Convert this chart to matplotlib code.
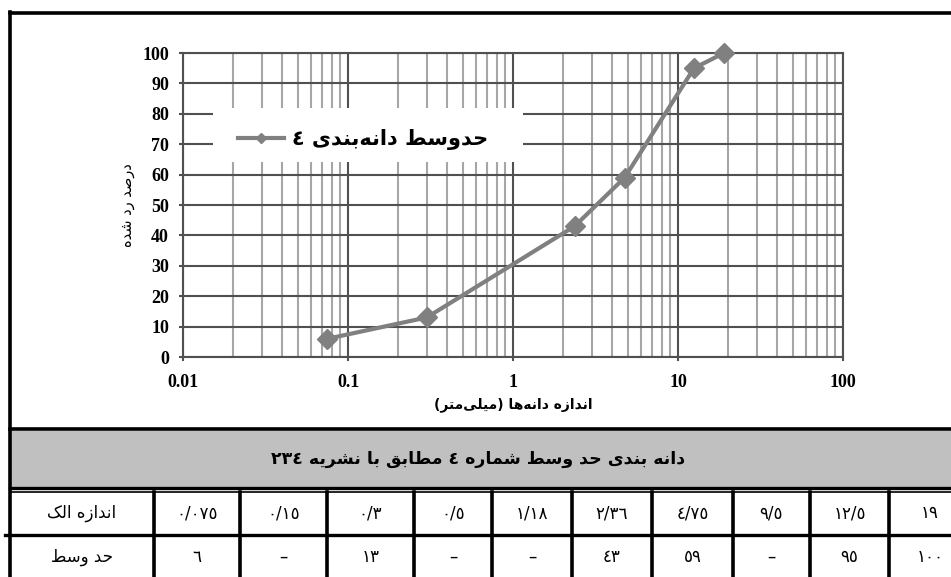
import re
import matplotlib
matplotlib.use('Agg')
import matplotlib.pyplot as plt
from matplotlib.patches import Rectangle
from matplotlib.ticker import FuncFormatter, LogLocator, NullFormatter

# داده‌های منحنی دانه‌بندی
sizes = [0.075, 0.3, 2.36, 4.75, 12.5, 19]
passing = [6, 13, 43, 59, 95, 100]

# داده‌های جدول
sieve_labels = ['٠/٠٧٥', '٠/١٥', '٠/٣', '٠/٥', '١/١٨', '٢/٣٦', '٤/٧٥', '٩/٥', '١٢/٥', '١٩']
mid_values = ['٦', '–', '١٣', '–', '–', '٤٣', '٥٩', '–', '٩٥', '١٠٠']

legend_label = 'حدوسط دانه\u200cبندی ٤'
x_title = 'اندازه دانه\u200cها (میلی\u200cمتر)'
y_title = 'درصد رد شده'
table_title = 'دانه بندی حد وسط شماره ٤ مطابق با نشریه ٢٣٤'
row_titles = ['اندازه الک', 'حد وسط']

# شکل‌دهی ساده حروف فارسی (matplotlib خودش اتصال حروف را انجام نمی‌دهد)
# (isolated, final, initial, medial)
FORMS = {
    'ا': (0xFE8D, 0xFE8E), 'ب': (0xFE8F, 0xFE90, 0xFE91, 0xFE92),
    'ت': (0xFE95, 0xFE96, 0xFE97, 0xFE98), 'ح': (0xFEA1, 0xFEA2, 0xFEA3, 0xFEA4),
    'د': (0xFEA9, 0xFEAA), 'ر': (0xFEAD, 0xFEAE), 'ز': (0xFEAF, 0xFEB0),
    'س': (0xFEB1, 0xFEB2, 0xFEB3, 0xFEB4), 'ش': (0xFEB5, 0xFEB6, 0xFEB7, 0xFEB8),
    'ص': (0xFEB9, 0xFEBA, 0xFEBB, 0xFEBC), 'ط': (0xFEC1, 0xFEC2, 0xFEC3, 0xFEC4),
    'ق': (0xFED5, 0xFED6, 0xFED7, 0xFED8), 'ل': (0xFEDD, 0xFEDE, 0xFEDF, 0xFEE0),
    'م': (0xFEE1, 0xFEE2, 0xFEE3, 0xFEE4), 'ن': (0xFEE5, 0xFEE6, 0xFEE7, 0xFEE8),
    'ه': (0xFEE9, 0xFEEA, 0xFEEB, 0xFEEC), 'و': (0xFEED, 0xFEEE),
    'ی': (0xFBFC, 0xFBFD, 0xFBFE, 0xFBFF), 'ک': (0xFB8E, 0xFB8F, 0xFB90, 0xFB91),
}
MIRROR = {'(': ')', ')': '('}


def fa(text):
    out = []
    for i, ch in enumerate(text):
        if ch not in FORMS:
            out.append(ch)
            continue
        prev = text[i - 1] if i > 0 else ''
        nxt = text[i + 1] if i + 1 < len(text) else ''
        j_prev = prev in FORMS and len(FORMS[prev]) == 4
        j_next = nxt in FORMS and len(FORMS[ch]) == 4
        f = FORMS[ch]
        if j_prev and j_next:
            code = f[3]
        elif j_prev:
            code = f[1]
        elif j_next:
            code = f[2]
        else:
            code = f[0]
        out.append(chr(code))
    shaped = ''.join(out).replace('\u200c', '')
    # عددها چپ به راست می‌مانند، بقیه برعکس می‌شود
    parts = re.findall(r'\d(?:[\d/.]*\d)?|.', shaped)
    return ''.join(MIRROR.get(p, p) for p in parts[::-1])


FA = 'DejaVu Sans'
NUM = 'Liberation Serif'
W, H = 951, 577

fig = plt.figure(figsize=(W / 100, H / 100), dpi=100)

# لایه زمینه برای کادر و جدول (مختصات پیکسلی)
bg = fig.add_axes([0, 0, 1, 1])
bg.set_xlim(0, W)
bg.set_ylim(H, 0)
bg.axis('off')

# کادر بیرونی
bg.plot([9.5, 975], [13, 13], color='black', lw=2.6)
bg.plot([9.5, 9.5], [11.5, 600], color='black', lw=2.6)
bg.plot([9.5, 975], [429, 429], color='black', lw=2.6)

# نوار خاکستری عنوان
bg.add_patch(Rectangle((11, 431), 960, 56, facecolor='#c0c0c0', edgecolor='none'))
bg.text(478, 459, fa(table_title), family=FA, fontsize=12.5, fontweight='bold',
        ha='center', va='center')
bg.plot([9.5, 975], [488, 488], color='black', lw=2.4)
bg.plot([9.5, 975], [491.5, 491.5], color='black', lw=1.2)

# جدول
col_edges = [9.5, 154, 240, 327, 414, 492, 572, 652, 733, 810, 889, 971]
row_edges = [492, 535, 578]
bg.plot([5, 975], [535, 535], color='black', lw=2.4)
for x in col_edges[1:-1]:
    bg.plot([x, x], [492, 600], color='black', lw=2.6)

rows = [[row_titles[0]] + sieve_labels, [row_titles[1]] + mid_values]
for r, cells in enumerate(rows):
    yc = (row_edges[r] + row_edges[r + 1]) / 2
    for c, s in enumerate(cells):
        xc = (col_edges[c] + col_edges[c + 1]) / 2
        bg.text(xc, yc, fa(s), family=FA, fontsize=12, ha='center', va='center')

# نمودار
ax = fig.add_axes([183 / W, 1 - 357 / H, 660 / W, 304 / H])
ax.set_xscale('log')
ax.set_xlim(0.01, 100)
ax.set_ylim(0, 100)
ax.set_axisbelow(True)

ax.xaxis.set_major_locator(LogLocator(base=10, numticks=10))
ax.xaxis.set_minor_locator(LogLocator(base=10, subs=range(2, 10), numticks=20))
ax.xaxis.set_major_formatter(FuncFormatter(lambda v, _: f'{v:g}'))
ax.xaxis.set_minor_formatter(NullFormatter())
ax.set_yticks(range(0, 101, 10))

ax.grid(which='major', color='#505050', lw=1.5)
ax.grid(which='minor', axis='x', color='#a6a6a6', lw=1.5)
for side in ['left', 'bottom', 'top', 'right']:
    ax.spines[side].set_color('#505050')
    ax.spines[side].set_linewidth(1.5)

ax.tick_params(which='major', length=3, width=1.5, color='#505050')
ax.tick_params(axis='y', pad=7)
ax.tick_params(axis='x', pad=9)
ax.tick_params(which='minor', length=0)
for lab in ax.get_xticklabels() + ax.get_yticklabels():
    lab.set_family(NUM)
    lab.set_fontweight('bold')
    lab.set_fontsize(13)

ax.plot(sizes, passing, color='#808080', lw=3, marker='D', markersize=10,
        label=fa(legend_label), zorder=3, clip_on=False)

# کادر سفید زیر راهنما
ax.add_patch(Rectangle((0.0455, 0.641), 0.47, 0.178, transform=ax.transAxes,
                       facecolor='white', edgecolor='none', zorder=1))
leg = ax.legend(loc='center left', bbox_to_anchor=(0.083, 0.714), frameon=False,
                borderpad=0, borderaxespad=0, handlelength=2.2, handletextpad=0.4,
                markerscale=0.5, prop={'family': FA, 'size': 15, 'weight': 'bold'})

ax.set_xlabel(fa(x_title), family=FA, fontsize=10, fontweight='bold', labelpad=5)
ax.set_ylabel(fa(y_title), family=FA, fontsize=10.5, labelpad=5)

fig.savefig('out.png', dpi=100)
